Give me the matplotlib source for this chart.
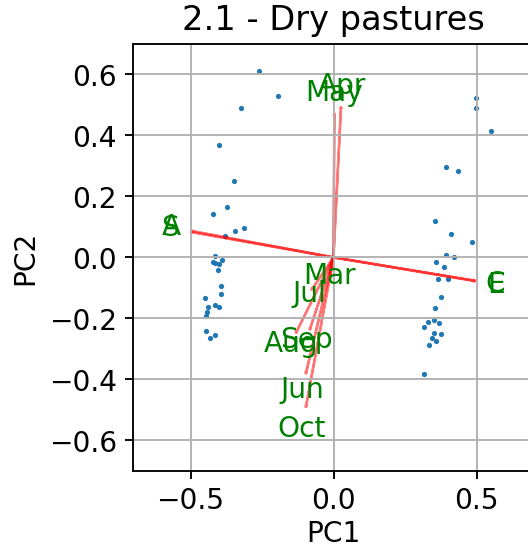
import numpy as np
import matplotlib.pyplot as plt

# PCA scores of the sites (PC1, PC2)
pc1 = [-0.261, -0.195, -0.323, -0.399, -0.349, -0.374, -0.421, -0.343, -0.312,
       -0.380, -0.415, -0.421, -0.413, -0.389, -0.400, -0.405, -0.394, -0.394,
       -0.451, -0.440, -0.415, -0.399, -0.441, -0.446, -0.447, -0.431, -0.415,
       0.497, 0.497, 0.550, 0.395, 0.436, 0.354, 0.410, 0.483, 0.395, 0.421,
       0.359, 0.385, 0.365, 0.401, 0.375, 0.354, 0.329, 0.350, 0.370, 0.318,
       0.350, 0.375, 0.344, 0.360, 0.333, 0.318]
pc2 = [0.611, 0.530, 0.489, 0.367, 0.250, 0.164, 0.143, 0.088, 0.096,
       0.070, 0.006, -0.015, -0.017, -0.009, -0.021, -0.043, -0.094, -0.121,
       -0.134, -0.161, -0.156, -0.161, -0.179, -0.193, -0.242, -0.265, -0.256,
       0.522, 0.489, 0.413, 0.296, 0.282, 0.119, 0.075, 0.051, 0.007, 0.002,
       -0.015, -0.030, -0.071, -0.070, -0.130, -0.166, -0.211, -0.206, -0.216, -0.229,
       -0.247, -0.252, -0.265, -0.275, -0.288, -0.382]

# loadings of the variables
var_names = ["S", "A", "E", "C", "Mar", "Apr", "May", "Jun", "Jul", "Aug", "Sep", "Oct"]
load_pc1 = [-0.497, -0.494, 0.493, 0.491, -0.011, 0.026, 0.003, -0.096, -0.075, -0.130, -0.082, -0.096]
load_pc2 = [0.083, 0.086, -0.077, -0.076, -0.053, 0.490, 0.469, -0.378, -0.104, -0.245, -0.234, -0.488]

plt.rcParams['font.size'] = 12
fig = plt.figure(figsize=(528 / 168, 545.2 / 168), dpi=168)
ax = fig.add_axes([0.2525, 0.1358, 0.7583, 0.7835])

ax.scatter(pc1, pc2, s=5, linewidths=0)
for i in range(len(var_names)):
    ax.arrow(0, 0, load_pc1[i], load_pc2[i], color='r', alpha=0.5)
    ax.text(load_pc1[i] * 1.15, load_pc2[i] * 1.15, var_names[i],
            color='g', ha='center', va='center')

ax.set_xlim(-0.7, 0.7)
ax.set_ylim(-0.7, 0.7)
ax.set_xlabel("PC1", labelpad=2)
ax.set_ylabel("PC2")
ax.set_title("2.1 - Dry pastures")
ax.grid()

fig.savefig("out.png", dpi=168)
